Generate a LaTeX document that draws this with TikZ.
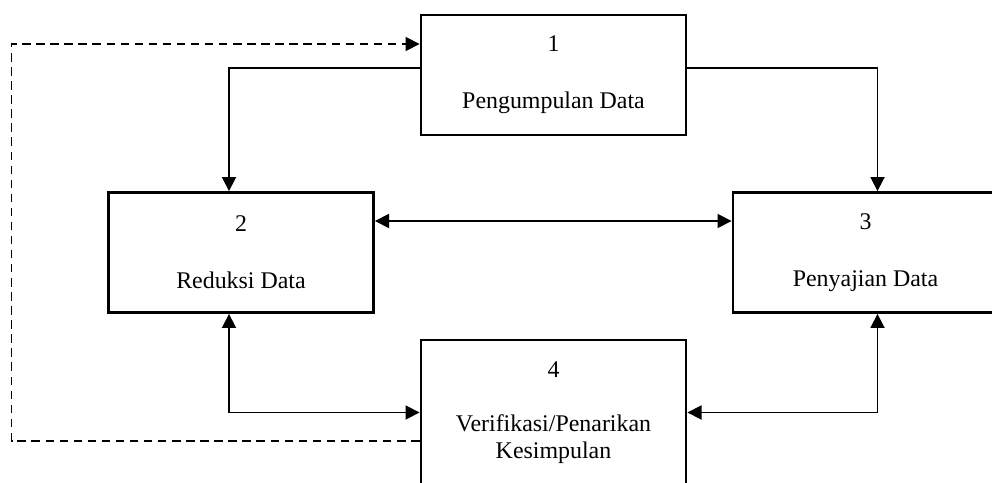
\documentclass[tikz,border=0pt]{standalone}
\usepackage{fontspec}
\setmainfont{Liberation Serif}
\usetikzlibrary{arrows.meta, calc, positioning}

\begin{document}
\begin{tikzpicture}[x=0.025cm,y=0.025cm,>={Triangle[length=10pt,width=10pt]}]
  \tikzstyle{stage}=[draw,line width=2pt,minimum width=6.625cm,minimum height=3cm,
                     align=center,font=\fontsize{17}{19.5}\selectfont]
  \tikzstyle{flow}=[line width=1.2pt]
  \tikzstyle{back}=[line width=1.2pt,dash pattern=on 6pt off 4pt]

  \useasboundingbox (0,0) rectangle (992,482);

  \node[stage]                        (p1) at (553.5,407)  {1\\[21pt]Pengumpulan Data};
  \node[stage]                        (p2) at (241,229.5)  {2\\[21pt]Reduksi Data};
  \node[stage]                        (p3) at (865.5,229.5) {3\\[21pt]Penyajian Data};
  \node[stage,minimum height=3.625cm] (p4) at (553.5,69.5) {4\\[19pt]Verifikasi/Penarikan\\Kesimpulan};

  % data flows
  \draw[flow,->]  ($(p1.west)+(0,7)$) -| ($(p2.north)+(-12,0)$);
  \draw[flow,->]  ($(p1.east)+(0,7)$) -| ($(p3.north)+(12,0)$);
  \draw[flow,<->] ($(p2.east)+(0,31.5)$) -- ($(p3.west)+(0,31.5)$);
  \draw[flow,<->] ($(p2.south)+(-12,0)$) |- (p4.west);
  \draw[flow,<->] ($(p3.south)+(12,0)$) |- (p4.east);

  % feedback loop
  \draw[back,->]  ($(p4.west)+(0,-28.5)$) -| ($(p1.west)+(-408,31)$) -- ($(p1.west)+(0,31)$);
\end{tikzpicture}
\end{document}
